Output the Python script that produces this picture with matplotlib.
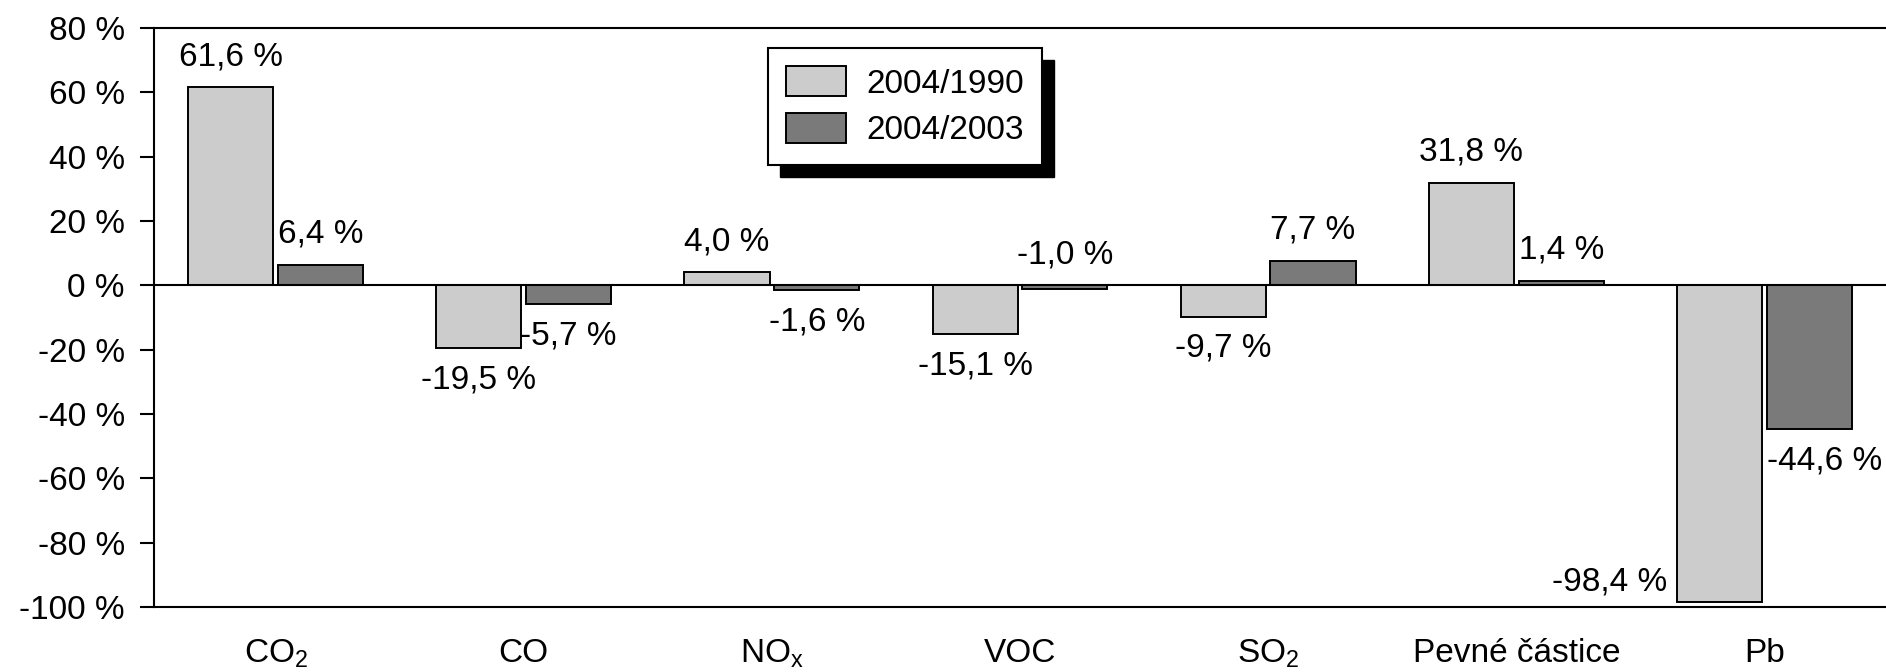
import numpy as np
import matplotlib
matplotlib.use('Agg')
from matplotlib import pyplot as plt
from matplotlib.patches import Rectangle

plt.rcParams['font.family'] = ['Liberation Sans', 'DejaVu Sans']
plt.rcParams['mathtext.default'] = 'regular'

# změna emisí znečišťujících látek
kategorie = ['CO$_2$', 'CO', 'NO$_x$', 'VOC', 'SO$_2$', 'Pevné částice', 'Pb']
zmena_1990 = [61.6, -19.5, 4.0, -15.1, -9.7, 31.8, -98.4]
zmena_2003 = [6.4, -5.7, -1.6, -1.0, 7.7, 1.4, -44.6]
serie = ['2004/1990', '2004/2003']
y_ticks = [80, 60, 40, 20, 0, -20, -40, -60, -80, -100]

# umístění popisků hodnot
popisky_1990 = ['above', 'below', 'above', 'below', 'below', 'above', 'left']
popisky_2003 = ['above', 'below', 'below', 'zero', 'above', 'above', 'below_left']

fs = 24
fig = plt.figure(figsize=(18.86, 6.72), dpi=100)
ax = fig.add_axes([154 / 1886, 65 / 672, 1 - 154 / 1886, 579 / 672])

x = np.arange(len(kategorie))
w = 0.343
off = 0.181
b1 = ax.bar(x - off, zmena_1990, w, color='#cccccc', edgecolor='black', linewidth=1.4, zorder=2)
b2 = ax.bar(x + off, zmena_2003, w, color='#7a7a7a', edgecolor='black', linewidth=1.4, zorder=2)
ax.axhline(0, color='black', linewidth=1.5, zorder=3)


def fmt(v):
    return ('%.1f %%' % v).replace('.', ',')


def popis(bars, vals, mista):
    for r, v, m in zip(bars, vals, mista):
        xl = r.get_x()
        xc = xl + r.get_width() / 2
        if m == 'above':
            ax.annotate(fmt(v), (xc, v), xytext=(0, 22), textcoords='offset points',
                        ha='center', va='center', fontsize=fs)
        elif m == 'zero':
            ax.annotate(fmt(v), (xc, 0), xytext=(0, 22), textcoords='offset points',
                        ha='center', va='center', fontsize=fs)
        elif m == 'below':
            ax.annotate(fmt(v), (xc, v), xytext=(0, -23), textcoords='offset points',
                        ha='center', va='center', fontsize=fs)
        elif m == 'left':
            ax.annotate(fmt(v), (xl, v), xytext=(-7, 14), textcoords='offset points',
                        ha='right', va='center', fontsize=fs)
        elif m == 'below_left':
            ax.annotate(fmt(v), (xl, v), xytext=(0, -23), textcoords='offset points',
                        ha='left', va='center', fontsize=fs, annotation_clip=False)


popis(b1, zmena_1990, popisky_1990)
popis(b2, zmena_2003, popisky_2003)

ax.set_xlim(-0.49, 6.49)
ax.set_ylim(-100, 80)
ax.set_yticks(y_ticks)
ax.set_yticklabels(['%d %%' % t for t in y_ticks])
ax.set_xticks(x)
ax.set_xticklabels(kategorie)
ax.tick_params(axis='y', length=10, width=1.5, pad=11, labelsize=fs)
ax.tick_params(axis='x', length=0, pad=22, labelsize=fs)
for s in ['left', 'top', 'bottom']:
    ax.spines[s].set_linewidth(1.5)
ax.spines['right'].set_visible(False)

leg = ax.legend([b1, b2], serie, loc='upper left', bbox_to_anchor=(768 / 1886, 1 - 48 / 672),
                bbox_transform=fig.transFigure, fontsize=fs, frameon=True, fancybox=False,
                edgecolor='black', framealpha=1, borderpad=0.55, handlelength=1.8,
                handleheight=1.0, handletextpad=0.6, labelspacing=0.4, borderaxespad=0)
leg.get_frame().set_linewidth(1.5)
leg.set_zorder(5)

# stín legendy
fig.canvas.draw()
bb = leg.get_frame().get_window_extent().transformed(fig.transFigure.inverted())
dx, dy = 12 / 1886, 12 / 672
stin = Rectangle((bb.x0 + dx, bb.y0 - dy), bb.width, bb.height,
                 transform=fig.transFigure, color='black', zorder=4)
ax.add_patch(stin)

plt.savefig('out.png', dpi=100)
